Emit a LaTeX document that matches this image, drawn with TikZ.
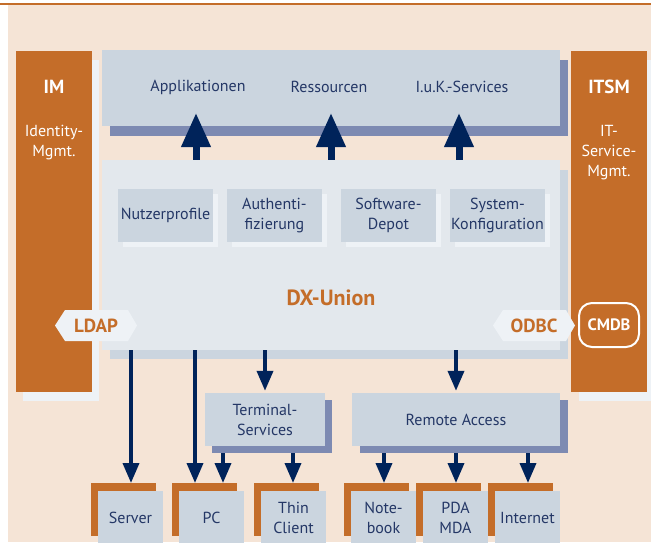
\documentclass[tikz,border=0pt]{standalone}
\usepackage{fontspec}
\setmainfont{PT Sans}
\usetikzlibrary{arrows.meta}
\definecolor{peach}{HTML}{F5E4D6}
\definecolor{orng}{HTML}{C46D29}
\definecolor{lightbox}{HTML}{CBD5DF}
\definecolor{dxfill}{HTML}{E3E8ED}
\definecolor{blueshadow}{HTML}{7D8AB2}
\definecolor{navy}{HTML}{00235A}
\definecolor{textnavy}{HTML}{243766}
\definecolor{paleshadow}{HTML}{EEF2F6}
\begin{document}
\begin{tikzpicture}[x=1pt,y=-1pt,
  bodyfont/.style={font=\fontsize{16}{20}\selectfont},
  txt/.style={text=textnavy, bodyfont, align=center, inner sep=0},
  boxnode/.style={rectangle, inner sep=0, fill=lightbox},
  colnode/.style={rectangle, inner sep=0, fill=orng, minimum width=76pt, minimum height=341pt},
  coltitle/.style={text=white, font=\bfseries\fontsize{19}{22}\selectfont, inner sep=0},
  coltext/.style={text=white, bodyfont, align=center, inner sep=0},
  tagtext/.style={text=orng, font=\bfseries\fontsize{19}{22}\selectfont, inner sep=0},
  uparrow/.style={navy, line width=7pt, -{Triangle[width=28pt,length=34pt]}},
  downarrow/.style={navy, line width=3.7pt, -{Triangle[width=16pt,length=20pt]}},
  endback/.style={rectangle, inner sep=0, fill=orng, minimum width=65pt, minimum height=53pt},
  endfront/.style={boxnode, minimum width=65pt, minimum height=53pt, text=textnavy, bodyfont, align=center},
  innerbox/.style={boxnode, minimum width=95pt, minimum height=53pt, text=textnavy, bodyfont, align=center}
]
\useasboundingbox (0,0) rectangle (651,542);
\fill[white] (0,0) rectangle (651,542);
\fill[peach] (8,5) rectangle (651,542);
\fill[orng] (0,3.3) rectangle (651,5.3);

% side columns
\fill[paleshadow] (23,60) rectangle (99,401);
\node[colnode] (im) at (54,221.5) {};
\fill[paleshadow] (579,60) rectangle (655,401);
\node[colnode] (itsm) at (609,221.5) {};
\node[coltitle] (imt) at (54,87) {IM};
\node[coltext] (imd) at (54,143) {Identity-\\Mgmt.};
\node[coltitle] (itsmt) at (609,87) {ITSM};
\node[coltext] (itsmd) at (609,153) {IT-\\Service-\\Mgmt.};

% top box
\fill[blueshadow] (110,60) rectangle (568,136);
\node[boxnode, minimum width=458pt, minimum height=76pt] (top) at (331,88) {};
\node[txt] (app) at (198,87) {Applikationen};
\node[txt] (res) at (329,87) {Ressourcen};
\node[txt] (iuk) at (462,87) {I.u.K.-Services};

% DX-Union
\fill[lightbox] (110,170) rectangle (568,359);
\node[rectangle, inner sep=0, fill=dxfill, minimum width=458pt, minimum height=190pt] (dx) at (331,255) {};
\node[text=orng, font=\bfseries\fontsize{22}{26}\selectfont, inner sep=0] (dxt) at (331,298) {DX-Union};

% inner boxes
\foreach \cx in {165.5,274.5,388.5,497.5}{
  \fill[paleshadow] (\cx-42.5,194) rectangle (\cx+52.5,247);
}
\node[innerbox] (nutz) at (165.5,215.5) {Nutzerprofile};
\node[innerbox] (auth) at (274.5,215.5) {Authenti-\\fizierung};
\node[innerbox] (soft) at (388.5,215.5) {Software-\\Depot};
\node[innerbox] (sys) at (497.5,215.5) {System-\\Konfiguration};

% up arrows
\coordinate (appTip) at (196,113);
\coordinate (resTip) at (331,113);
\coordinate (iukTip) at (459,113);
\draw[uparrow] (dx.north -| appTip) -- (appTip);
\draw[uparrow] (dx.north -| resTip) -- (resTip);
\draw[uparrow] (dx.north -| iukTip) -- (iukTip);

% tags
\fill[paleshadow] (55,325.5) -- (65,310) -- (128,310) -- (137,325.5) -- (128,341) -- (65,341) -- cycle;
\node[tagtext] (ldap) at (96,325.5) {LDAP};
\fill[paleshadow] (493,325.5) -- (503,310) -- (566,310) -- (575,325.5) -- (566,341) -- (503,341) -- cycle;
\node[tagtext] (odbc) at (534,325.5) {ODBC};
\node[rectangle, rounded corners=13pt, draw=white, line width=2pt, fill=orng, minimum width=60pt, minimum height=44pt, text=white, font=\bfseries\fontsize{16.5}{18}\selectfont, inner sep=0] (cmdb) at (609,325) {CMDB};

% terminal + remote
\fill[blueshadow] (212,400) rectangle (332,453);
\node[boxnode, minimum width=120pt, minimum height=53pt, text=textnavy, bodyfont, align=center] (term) at (265,419.5) {Terminal-\\Services};
\fill[blueshadow] (360,400) rectangle (568,453);
\node[boxnode, minimum width=208pt, minimum height=53pt, text=textnavy, bodyfont] (remote) at (456,419.5) {Remote Access};

% end devices
\foreach \x in {91,172,254,344,416,488}{
  \node[endback, anchor=north west] at (\x,483) {};
}
\node[endfront] (server) at (130.5,517.5) {Server};
\node[endfront] (pc) at (211.5,517.5) {PC};
\node[endfront] (thin) at (293.5,517.5) {Thin\\Client};
\node[endfront] (note) at (383.5,517.5) {Note-\\book};
\node[endfront] (pda) at (455.5,517.5) {PDA\\MDA};
\node[endfront] (inet) at (527.5,517.5) {Internet};

% down arrows from DX
\coordinate (srvIn) at (131,483);
\coordinate (pcIn1) at (195,483);
\coordinate (pcIn2) at (223,483);
\coordinate (thinIn) at (293,483);
\coordinate (noteIn) at (384,483);
\coordinate (pdaIn) at (456,483);
\coordinate (inetIn) at (528,483);
\draw[downarrow] (dx.south -| srvIn) -- (srvIn);
\draw[downarrow] (dx.south -| pcIn1) -- (pcIn1);
\draw[downarrow] (dx.south -| term) -- ([yshift=2pt]term.north);
\draw[downarrow] (dx.south -| remote) -- ([yshift=2pt]remote.north);
% from terminal / remote (below shadow, y=453)
\draw[downarrow] (pcIn2 |- 0,453) -- (pcIn2);
\draw[downarrow] (thinIn |- 0,453) -- (thinIn);
\draw[downarrow] (noteIn |- 0,453) -- (noteIn);
\draw[downarrow] (pdaIn |- 0,453) -- (pdaIn);
\draw[downarrow] (inetIn |- 0,453) -- (inetIn);
\end{tikzpicture}
\end{document}
